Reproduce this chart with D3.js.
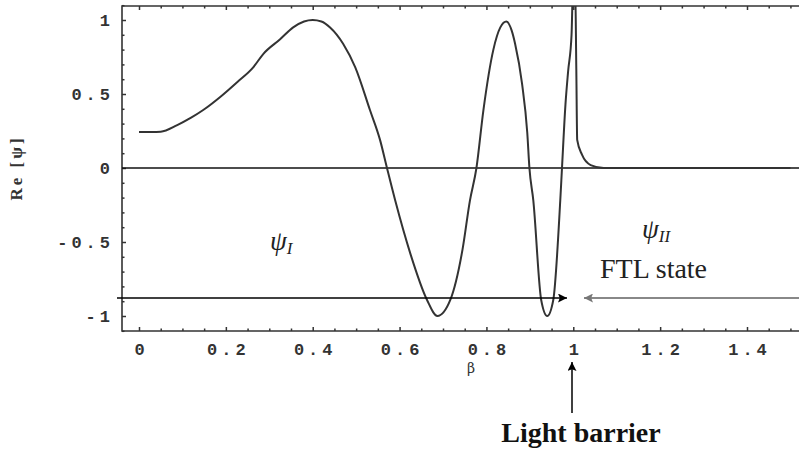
<!DOCTYPE html>
<html>
<head>
<meta charset="utf-8">
<script src="https://cdn.jsdelivr.net/npm/d3@7/dist/d3.min.js"></script>
<style>
  body { margin: 0; background: #fff; }
  svg { display: block; }
  .tick text { font-family: "Liberation Mono", monospace; font-weight: bold; font-size: 17px; fill: #333; letter-spacing: 4px; }
  .tick line { stroke: #333; stroke-width: 1.5; }
</style>
</head>
<body>
<svg width="799" height="452"></svg>
<script>
// wave function Re[psi]
var betaVals = [0.00, 0.03, 0.05, 0.088, 0.12, 0.147, 0.187, 0.226, 0.263, 0.286, 0.325, 0.355, 0.38, 0.40, 0.42, 0.44, 0.47, 0.498, 0.532, 0.555, 0.571,
                0.59, 0.625, 0.663, 0.687, 0.717, 0.745, 0.762, 0.777, 0.793, 0.816, 0.832, 0.846, 0.858, 0.866, 0.882, 0.894, 0.899,
                0.908, 0.926, 0.940, 0.954, 0.970, 0.974, 0.982, 0.988, 0.996, 1.000, 1.004, 1.007, 1.009, 1.02, 1.04, 1.07, 1.5];
var psiVals  = [0.243, 0.243, 0.245, 0.29, 0.34, 0.39, 0.48, 0.58, 0.68, 0.77, 0.87, 0.95, 0.99, 1.00, 0.99, 0.95, 0.84, 0.68, 0.39, 0.19, 0.0,
                -0.22, -0.58, -0.89, -1.0, -0.89, -0.55, -0.22, 0.0, 0.39, 0.80, 0.95, 0.99, 0.93, 0.84, 0.57, 0.24, 0.0,
                -0.22, -0.89, -1.0, -0.89, -0.22, 0.0, 0.43, 0.65, 0.9, 1.3, 1.3, 0.66, 0.19, 0.09, 0.02, 0.0, 0.0];

var xTickVals = [0, 0.2, 0.4, 0.6, 0.8, 1, 1.2, 1.4];
var xTickLabels = ["0", "0.2", "0.4", "0.6", "0.8", "1", "1.2", "1.4"];
var yTickVals = [-1, -0.5, 0, 0.5, 1];
var yTickLabels = ["-1", "-0.5", "0", "0.5", "1"];

var svg = d3.select("svg");

var x = d3.scaleLinear().domain([0, 1.4]).range([139, 747]);
var y = d3.scaleLinear().domain([-1, 1]).range([316, 20]);

var fLeft = 122, fTop = 6, fBottom = 331, fRight = 800;

// minor ticks
var xMinor = d3.range(0, 1.56, 0.05).filter(function(d){ return Math.abs(d*5 - Math.round(d*5)) > 1e-6; });
var yMinor = d3.range(-1.1, 1.11, 0.1).filter(function(d){ return Math.abs(d*2 - Math.round(d*2)) > 1e-6; });

function minorX(g, gen){
  g.call(gen(x).tickValues(xMinor).tickSize(-2.5).tickFormat(""));
  g.select(".domain").remove();
}
svg.append("g").attr("transform", "translate(0," + fBottom + ")").call(minorX, d3.axisBottom);
svg.append("g").attr("transform", "translate(0," + fTop + ")").call(minorX, d3.axisTop);
var gym = svg.append("g").attr("transform", "translate(" + fLeft + ",0)")
  .call(d3.axisLeft(y).tickValues(yMinor).tickSize(-2.5).tickFormat(""));
gym.select(".domain").remove();

// major ticks + labels
var gx = svg.append("g").attr("transform", "translate(0," + fBottom + ")")
  .call(d3.axisBottom(x).tickValues(xTickVals).tickSize(-4).tickPadding(12)
    .tickFormat(function(d, i){ return xTickLabels[i]; }));
gx.select(".domain").remove();
gx.selectAll(".tick text").attr("dx", "2px");

var gxt = svg.append("g").attr("transform", "translate(0," + fTop + ")")
  .call(d3.axisTop(x).tickValues(xTickVals).tickSize(-4).tickFormat(""));
gxt.select(".domain").remove();

var gy = svg.append("g").attr("transform", "translate(" + fLeft + ",0)")
  .call(d3.axisLeft(y).tickValues(yTickVals).tickSize(-4).tickPadding(8)
    .tickFormat(function(d, i){ return yTickLabels[i]; }));
gy.select(".domain").remove();

// frame
svg.append("path")
  .attr("d", "M" + fRight + "," + fTop + "H" + fLeft + "V" + fBottom + "H" + fRight)
  .attr("fill", "none").attr("stroke", "#333").attr("stroke-width", 1.6);

// zero line
svg.append("line")
  .attr("x1", fLeft).attr("x2", fRight).attr("y1", y(0)).attr("y2", y(0))
  .attr("stroke", "#111").attr("stroke-width", 1.5);

// curve
svg.append("clipPath").attr("id", "clip")
  .append("rect").attr("x", fLeft).attr("y", fTop).attr("width", fRight - fLeft).attr("height", fBottom - fTop);

var pts = betaVals.map(function(b, i){ return [b, psiVals[i]]; });
var line = d3.line()
  .x(function(d){ return x(d[0]); })
  .y(function(d){ return y(d[1]); })
  .curve(d3.curveMonotoneX);

svg.append("path")
  .datum(pts)
  .attr("clip-path", "url(#clip)")
  .attr("d", line)
  .attr("fill", "none")
  .attr("stroke", "#333")
  .attr("stroke-width", 2);

// arrow heads
var defs = svg.append("defs");
function head(id, color){
  defs.append("marker").attr("id", id)
    .attr("viewBox", "0 0 10 10").attr("refX", 10).attr("refY", 5)
    .attr("markerUnits", "userSpaceOnUse")
    .attr("markerWidth", 13).attr("markerHeight", 9).attr("orient", "auto")
    .append("path").attr("d", "M0,0L10,5L0,10L2,5Z").attr("fill", color);
}
head("hb", "#000");
head("hg", "#777");

svg.append("line").attr("x1", 117).attr("y1", 298).attr("x2", 567).attr("y2", 298)
  .attr("stroke", "#000").attr("stroke-width", 1.5).attr("marker-end", "url(#hb)");
svg.append("line").attr("x1", 799).attr("y1", 298).attr("x2", 584).attr("y2", 298)
  .attr("stroke", "#888").attr("stroke-width", 2).attr("marker-end", "url(#hg)");
svg.append("line").attr("x1", 572).attr("y1", 413).attr("x2", 572).attr("y2", 362)
  .attr("stroke", "#000").attr("stroke-width", 1.5).attr("marker-end", "url(#hb)");

// labels
svg.append("text")
  .attr("transform", "translate(22,168) rotate(-90)")
  .attr("text-anchor", "middle")
  .style("font-family", "'Liberation Serif', serif").style("font-weight", "bold")
  .style("font-size", "17px").style("letter-spacing", "3px").style("fill", "#333")
  .text("Re [ψ]");

svg.append("text")
  .attr("x", 471).attr("y", 373).attr("text-anchor", "middle")
  .style("font-family", "'DejaVu Serif', serif").style("font-size", "14px").style("fill", "#333")
  .text("β");

var psi1 = svg.append("text").attr("x", 270).attr("y", 250)
  .style("font-family", "'Liberation Serif', serif").style("font-style", "italic")
  .style("font-size", "27px").style("fill", "#222");
psi1.append("tspan").text("ψ");
psi1.append("tspan").attr("dy", 4).style("font-size", "17px").text("I");

var psi2 = svg.append("text").attr("x", 642).attr("y", 238)
  .style("font-family", "'Liberation Serif', serif").style("font-style", "italic")
  .style("font-size", "27px").style("fill", "#222");
psi2.append("tspan").text("ψ");
psi2.append("tspan").attr("dy", 4).style("font-size", "17px").text("II");

svg.append("text").attr("x", 600).attr("y", 278)
  .style("font-family", "'Liberation Serif', serif")
  .style("font-size", "28px").style("fill", "#222")
  .text("FTL state");

svg.append("text").attr("x", 581).attr("y", 442).attr("text-anchor", "middle")
  .style("font-family", "'Liberation Serif', serif").style("font-weight", "bold")
  .style("font-size", "28px").style("fill", "#111")
  .text("Light barrier");
</script>
</body>
</html>
